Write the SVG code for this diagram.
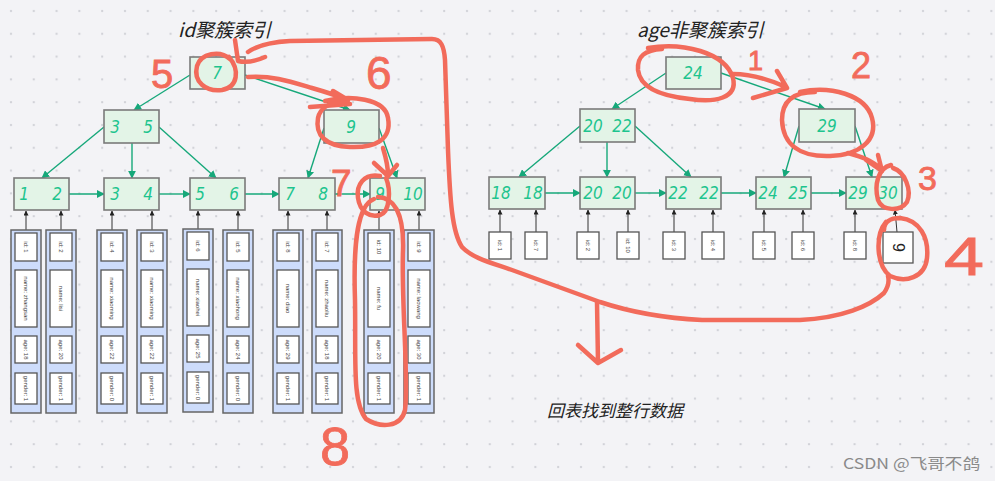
<svg xmlns="http://www.w3.org/2000/svg" width="995" height="481" viewBox="0 0 995 481">
<defs>
<pattern id="dots" x="0" y="0" width="22.8" height="22.8" patternUnits="userSpaceOnUse">
<rect x="10" y="10" width="2" height="2" fill="#cfd0d6"/>
</pattern>
<marker id="ga" viewBox="0 0 10 10" refX="9" refY="5" markerWidth="8" markerHeight="8" orient="auto" markerUnits="userSpaceOnUse">
<path d="M0,0 L10,5 L0,10 z" fill="#16a87a"/>
</marker>
<marker id="ka" viewBox="0 0 10 10" refX="9" refY="5" markerWidth="5" markerHeight="5" orient="auto" markerUnits="userSpaceOnUse">
<path d="M0,0 L10,5 L0,10 z" fill="#222"/>
</marker>
<style>
.nd{fill:#e3f4e7;stroke:#7a7a7a;stroke-width:1.6}
.k{font-family:"DejaVu Sans Condensed","DejaVu Sans",sans-serif;font-style:italic;font-size:17px;fill:#1ec48e;text-anchor:middle;dominant-baseline:central}
.ln{stroke:#16a87a;stroke-width:1.4;fill:none;marker-end:url(#ga)}
.pt{stroke:#333;stroke-width:1;fill:none;marker-end:url(#ka)}
.col{fill:#cddcfb;stroke:#666;stroke-width:1.5}
.cell{fill:#fff;stroke:#555;stroke-width:1.3}
.rt{font-family:"Liberation Sans",Arial,sans-serif;font-size:6px;fill:#444;text-anchor:middle;dominant-baseline:central}
.ttl{font-family:"Noto Sans CJK SC","Noto Sans",sans-serif;font-style:italic;font-size:19px;fill:#222}
.red{stroke:#f26b5b;stroke-width:4.5;fill:none;stroke-linecap:round;stroke-linejoin:round}
.rd{font-family:"Liberation Sans",Arial,sans-serif;fill:#f26b5b;stroke:#f26b5b;stroke-width:0.8}
</style>
</defs>
<rect width="995" height="481" fill="#f3f3f6"/>
<rect width="995" height="481" fill="url(#dots)"/>

<text class="ttl" x="178" y="37">id聚簇索引</text>
<text class="ttl" x="637" y="37">age非聚簇索引</text>

<g id="connectors">
<line class="ln" x1="190" y1="75" x2="134" y2="110"/>
<line class="ln" x1="245" y1="75" x2="350" y2="110"/>
<line class="ln" x1="104" y1="127" x2="42" y2="178"/>
<line class="ln" x1="132" y1="143" x2="132" y2="178"/>
<line class="ln" x1="159" y1="127" x2="216" y2="178"/>
<line class="ln" x1="324" y1="128" x2="308" y2="178"/>
<line class="ln" x1="379" y1="128" x2="397" y2="178"/>
<line class="ln" x1="69" y1="194" x2="104" y2="194"/>
<line class="ln" x1="159" y1="194" x2="190" y2="194"/>
<line class="ln" x1="245" y1="194" x2="279" y2="194"/>
<line class="ln" x1="335" y1="194" x2="370" y2="194"/>

<line class="ln" x1="666" y1="73" x2="612" y2="109"/>
<line class="ln" x1="721" y1="73" x2="825" y2="109"/>
<line class="ln" x1="580" y1="126" x2="519" y2="177"/>
<line class="ln" x1="607" y1="142" x2="607" y2="177"/>
<line class="ln" x1="635" y1="126" x2="691" y2="177"/>
<line class="ln" x1="799" y1="126" x2="784" y2="177"/>
<line class="ln" x1="855" y1="126" x2="872" y2="177"/>
<line class="ln" x1="545" y1="193" x2="580" y2="193"/>
<line class="ln" x1="635" y1="193" x2="666" y2="193"/>
<line class="ln" x1="721" y1="193" x2="756" y2="193"/>
<line class="ln" x1="811" y1="193" x2="846" y2="193"/>

<line class="pt" x1="26" y1="230" x2="26" y2="211"/>
<line class="pt" x1="61" y1="230" x2="61" y2="211"/>
<line class="pt" x1="112" y1="230" x2="112" y2="211"/>
<line class="pt" x1="152" y1="230" x2="152" y2="211"/>
<line class="pt" x1="198" y1="230" x2="198" y2="211"/>
<line class="pt" x1="238" y1="230" x2="238" y2="211"/>
<line class="pt" x1="288" y1="230" x2="288" y2="211"/>
<line class="pt" x1="327" y1="230" x2="327" y2="211"/>
<line class="pt" x1="379" y1="230" x2="379" y2="211"/>
<line class="pt" x1="419" y1="230" x2="419" y2="211"/>

<line class="pt" x1="500" y1="232" x2="500" y2="210"/>
<line class="pt" x1="536" y1="232" x2="536" y2="210"/>
<line class="pt" x1="588" y1="232" x2="588" y2="210"/>
<line class="pt" x1="628" y1="232" x2="628" y2="210"/>
<line class="pt" x1="674" y1="232" x2="674" y2="210"/>
<line class="pt" x1="713" y1="232" x2="713" y2="210"/>
<line class="pt" x1="764" y1="232" x2="764" y2="210"/>
<line class="pt" x1="803" y1="232" x2="803" y2="210"/>
<line class="pt" x1="855" y1="232" x2="855" y2="210"/>
<line class="pt" x1="897" y1="232" x2="895" y2="210"/>
</g>

<g id="id-root"><rect class="nd" x="190" y="57" width="55" height="32"/><text class="k" x="217" y="73">7</text></g>
<g id="id-n35"><rect class="nd" x="104" y="110" width="55" height="33"/><text class="k" x="115" y="127">3</text><text class="k" x="148" y="127">5</text></g>
<g id="id-n9"><rect class="nd" x="324" y="110" width="55" height="33"/><text class="k" x="351" y="127">9</text></g>
<g id="id-l12"><rect class="nd" x="14" y="178" width="55" height="32"/><text class="k" x="24" y="194">1</text><text class="k" x="57" y="194">2</text></g>
<g id="id-l34"><rect class="nd" x="104" y="178" width="55" height="32"/><text class="k" x="115" y="194">3</text><text class="k" x="148" y="194">4</text></g>
<g id="id-l56"><rect class="nd" x="190" y="178" width="55" height="32"/><text class="k" x="200" y="194">5</text><text class="k" x="234" y="194">6</text></g>
<g id="id-l78"><rect class="nd" x="279" y="178" width="56" height="32"/><text class="k" x="290" y="194">7</text><text class="k" x="323" y="194">8</text></g>
<g id="id-l910"><rect class="nd" x="370" y="178" width="55" height="32"/><text class="k" x="380" y="194">9</text><text class="k" x="413" y="194">10</text></g>

<g id="row1" transform="translate(11,230)"><rect class="col" width="30" height="183"/><rect class="cell" x="4" y="3" width="22" height="28"/><rect class="cell" x="4" y="40" width="22" height="57"/><rect class="cell" x="4" y="106" width="22" height="27"/><rect class="cell" x="4" y="143" width="22" height="31"/><text class="rt" transform="translate(15,17) rotate(90)">id: 1</text><text class="rt" transform="translate(15,68.5) rotate(90)">name: zhangsan</text><text class="rt" transform="translate(15,119.5) rotate(90)">age: 18</text><text class="rt" transform="translate(15,158.5) rotate(90)">gender: 1</text></g>
<g id="row2" transform="translate(46,230)"><rect class="col" width="30" height="183"/><rect class="cell" x="4" y="3" width="22" height="28"/><rect class="cell" x="4" y="40" width="22" height="57"/><rect class="cell" x="4" y="106" width="22" height="27"/><rect class="cell" x="4" y="143" width="22" height="31"/><text class="rt" transform="translate(15,17) rotate(90)">id: 2</text><text class="rt" transform="translate(15,68.5) rotate(90)">name: lisi</text><text class="rt" transform="translate(15,119.5) rotate(90)">age: 20</text><text class="rt" transform="translate(15,158.5) rotate(90)">gender: 1</text></g>
<g id="row3" transform="translate(97,230)"><rect class="col" width="30" height="183"/><rect class="cell" x="4" y="3" width="22" height="28"/><rect class="cell" x="4" y="40" width="22" height="57"/><rect class="cell" x="4" y="106" width="22" height="27"/><rect class="cell" x="4" y="143" width="22" height="31"/><text class="rt" transform="translate(15,17) rotate(90)">id: 4</text><text class="rt" transform="translate(15,68.5) rotate(90)">name: xiaoming</text><text class="rt" transform="translate(15,119.5) rotate(90)">age: 22</text><text class="rt" transform="translate(15,158.5) rotate(90)">gender: 0</text></g>
<g id="row4" transform="translate(137,230)"><rect class="col" width="30" height="183"/><rect class="cell" x="4" y="3" width="22" height="28"/><rect class="cell" x="4" y="40" width="22" height="57"/><rect class="cell" x="4" y="106" width="22" height="27"/><rect class="cell" x="4" y="143" width="22" height="31"/><text class="rt" transform="translate(15,17) rotate(90)">id: 3</text><text class="rt" transform="translate(15,68.5) rotate(90)">name: xiaoming</text><text class="rt" transform="translate(15,119.5) rotate(90)">age: 22</text><text class="rt" transform="translate(15,158.5) rotate(90)">gender: 1</text></g>
<g id="row5" transform="translate(183,229)"><rect class="col" width="30" height="183"/><rect class="cell" x="4" y="3" width="22" height="28"/><rect class="cell" x="4" y="40" width="22" height="57"/><rect class="cell" x="4" y="106" width="22" height="27"/><rect class="cell" x="4" y="143" width="22" height="31"/><text class="rt" transform="translate(15,17) rotate(90)">id: 6</text><text class="rt" transform="translate(15,68.5) rotate(90)">name: xiaohei</text><text class="rt" transform="translate(15,119.5) rotate(90)">age: 25</text><text class="rt" transform="translate(15,158.5) rotate(90)">gender: 0</text></g>
<g id="row6" transform="translate(223,230)"><rect class="col" width="30" height="183"/><rect class="cell" x="4" y="3" width="22" height="28"/><rect class="cell" x="4" y="40" width="22" height="57"/><rect class="cell" x="4" y="106" width="22" height="27"/><rect class="cell" x="4" y="143" width="22" height="31"/><text class="rt" transform="translate(15,17) rotate(90)">id: 5</text><text class="rt" transform="translate(15,68.5) rotate(90)">name: xiaohong</text><text class="rt" transform="translate(15,119.5) rotate(90)">age: 24</text><text class="rt" transform="translate(15,158.5) rotate(90)">gender: 0</text></g>
<g id="row7" transform="translate(273,230)"><rect class="col" width="30" height="183"/><rect class="cell" x="4" y="3" width="22" height="28"/><rect class="cell" x="4" y="40" width="22" height="57"/><rect class="cell" x="4" y="106" width="22" height="27"/><rect class="cell" x="4" y="143" width="22" height="31"/><text class="rt" transform="translate(15,17) rotate(90)">id: 8</text><text class="rt" transform="translate(15,68.5) rotate(90)">name: diao</text><text class="rt" transform="translate(15,119.5) rotate(90)">age: 29</text><text class="rt" transform="translate(15,158.5) rotate(90)">gender: 1</text></g>
<g id="row8" transform="translate(312,230)"><rect class="col" width="30" height="183"/><rect class="cell" x="4" y="3" width="22" height="28"/><rect class="cell" x="4" y="40" width="22" height="57"/><rect class="cell" x="4" y="106" width="22" height="27"/><rect class="cell" x="4" y="143" width="22" height="31"/><text class="rt" transform="translate(15,17) rotate(90)">id: 7</text><text class="rt" transform="translate(15,68.5) rotate(90)">name: zhaoliu</text><text class="rt" transform="translate(15,119.5) rotate(90)">age: 18</text><text class="rt" transform="translate(15,158.5) rotate(90)">gender: 1</text></g>
<g id="row9" transform="translate(364,230)"><rect class="col" width="30" height="183"/><rect class="cell" x="4" y="3" width="22" height="28"/><rect class="cell" x="4" y="40" width="22" height="57"/><rect class="cell" x="4" y="106" width="22" height="27"/><rect class="cell" x="4" y="143" width="22" height="31"/><text class="rt" transform="translate(15,17) rotate(90)">id: 10</text><text class="rt" transform="translate(15,68.5) rotate(90)">name: fu</text><text class="rt" transform="translate(15,119.5) rotate(90)">age: 20</text><text class="rt" transform="translate(15,158.5) rotate(90)">gender: 1</text></g>
<g id="row10" transform="translate(404,230)"><rect class="col" width="30" height="183"/><rect class="cell" x="4" y="3" width="22" height="28"/><rect class="cell" x="4" y="40" width="22" height="57"/><rect class="cell" x="4" y="106" width="22" height="27"/><rect class="cell" x="4" y="143" width="22" height="31"/><text class="rt" transform="translate(15,17) rotate(90)">id: 9</text><text class="rt" transform="translate(15,68.5) rotate(90)">name: laowang</text><text class="rt" transform="translate(15,119.5) rotate(90)">age: 30</text><text class="rt" transform="translate(15,158.5) rotate(90)">gender: 1</text></g>

<g id="age-root"><rect class="nd" x="666" y="57" width="55" height="32"/><text class="k" x="693" y="73">24</text></g>
<g id="age-n2022"><rect class="nd" x="580" y="109" width="55" height="33"/><text class="k" x="593" y="126">20</text><text class="k" x="622" y="126">22</text></g>
<g id="age-n29"><rect class="nd" x="799" y="109" width="56" height="33"/><text class="k" x="827" y="126">29</text></g>
<g id="age-l1818"><rect class="nd" x="489" y="177" width="56" height="32"/><text class="k" x="501" y="193">18</text><text class="k" x="533" y="193">18</text></g>
<g id="age-l2020"><rect class="nd" x="580" y="177" width="55" height="32"/><text class="k" x="593" y="193">20</text><text class="k" x="622" y="193">20</text></g>
<g id="age-l2222"><rect class="nd" x="666" y="177" width="55" height="32"/><text class="k" x="678" y="193">22</text><text class="k" x="709" y="193">22</text></g>
<g id="age-l2425"><rect class="nd" x="756" y="177" width="55" height="32"/><text class="k" x="768" y="193">24</text><text class="k" x="798" y="193">25</text></g>
<g id="age-l2930"><rect class="nd" x="846" y="177" width="56" height="32"/><text class="k" x="858" y="193">29</text><text class="k" x="888" y="193">30</text></g>

<g id="ptr1"><rect class="cell" x="489" y="232" width="22" height="27"/><text class="rt" transform="translate(500,245.5) rotate(90)">id: 1</text></g>
<g id="ptr2"><rect class="cell" x="525" y="232" width="22" height="27"/><text class="rt" transform="translate(536,245.5) rotate(90)">id: 7</text></g>
<g id="ptr3"><rect class="cell" x="577" y="232" width="22" height="27"/><text class="rt" transform="translate(588,245.5) rotate(90)">id: 2</text></g>
<g id="ptr4"><rect class="cell" x="617" y="232" width="22" height="27"/><text class="rt" transform="translate(628,245.5) rotate(90)">id: 10</text></g>
<g id="ptr5"><rect class="cell" x="663" y="232" width="22" height="27"/><text class="rt" transform="translate(674,245.5) rotate(90)">id: 3</text></g>
<g id="ptr6"><rect class="cell" x="702" y="232" width="22" height="27"/><text class="rt" transform="translate(713,245.5) rotate(90)">id: 4</text></g>
<g id="ptr7"><rect class="cell" x="753" y="232" width="22" height="27"/><text class="rt" transform="translate(764,245.5) rotate(90)">id: 5</text></g>
<g id="ptr8"><rect class="cell" x="792" y="232" width="22" height="27"/><text class="rt" transform="translate(803,245.5) rotate(90)">id: 6</text></g>
<g id="ptr9"><rect class="cell" x="844" y="232" width="22" height="27"/><text class="rt" transform="translate(855,245.5) rotate(90)">id: 8</text></g>
<g id="ptr10"><rect class="cell" x="883" y="232" width="30" height="31"/><text transform="translate(898,247.5) rotate(90)" font-family="Liberation Sans, Arial, sans-serif" font-size="16" fill="#222" text-anchor="middle" dominant-baseline="central">9</text></g>

<text x="547" y="417" font-family="Noto Sans CJK SC, sans-serif" font-style="italic" font-size="17" fill="#222">回表找到整行数据</text>
<text x="843" y="469" font-family="Noto Sans CJK SC, Liberation Sans, sans-serif" font-size="15" fill="#8a8a8a" textLength="137" lengthAdjust="spacingAndGlyphs">CSDN @飞哥不鸽</text>

<g id="annotations">
<path class="red" d="M230,59 C220,50 201,53 197,66 C193,82 206,92 222,90 C238,87 240,70 229,57"/>
<path class="red" d="M235,40 L238,61 C246,63 256,61 265,57"/>
<path class="red" d="M248,52 C258,45 270,42 290,41 L432,39 C441,39 444,46 445,60 L448,150 C450,200 452,232 462,247 C472,258 492,263 512,270 C542,281 572,292 600,302 C630,312 662,318 702,320 L800,320 C842,318 870,306 884,293 C889,286 889,280 888,276"/>
<path class="red" d="M597,302 L598,363 M578,345 L598,363 L621,350"/>
<path class="red" d="M248,77 C272,75 292,82 312,88 C326,92 338,96 348,100 M333,91 L348,100 M310,107 L350,104"/>
<path class="red" d="M325,101 C350,95 385,98 388,118 C392,140 375,148 350,147 C325,146 315,135 318,118 C320,108 330,102 345,101"/>
<path class="red" d="M383,148 C386,158 388,165 388,175 M374,163 L388,176 L397,165"/>
<path class="red" d="M380,176 C364,173 356,185 358,198 C360,212 370,218 380,215 C390,212 391,190 386,178"/>
<path class="red" d="M374,199 C358,205 353,240 355,300 C356,360 352,402 366,419 C380,428 401,428 405,410 C409,380 401,300 403,250 C404,215 396,198 378,197"/>
<path class="red" d="M648,48 C682,42 725,52 733,78 C738,98 715,103 690,99 C660,96 640,88 638,70 C637,56 645,50 662,49"/>
<path class="red" d="M733,74 C750,74 766,78 786,87 M777,71 L787,88 M753,98 L787,88"/>
<path class="red" d="M800,92 C830,85 866,95 872,118 C878,140 860,155 830,156 C800,157 783,145 782,120 C782,100 795,92 815,92"/>
<path class="red" d="M848,153 C862,157 872,160 882,170 M866,160 L882,171 L878,155"/>
<path class="red" d="M891,165 C878,168 874,185 878,200 C882,211 900,212 907,202 C912,190 905,172 893,168"/>
<path class="red" d="M886,222 C875,235 876,265 890,276 C905,283 925,278 927,258 C929,238 920,220 900,218 C890,218 884,222 884,230"/>
<text class="rd" x="151" y="88" font-size="40">5</text>
<text class="rd" x="366" y="89" font-size="46">6</text>
<text class="rd" x="331" y="196" font-size="37">7</text>
<text class="rd" x="320" y="465" font-size="54">8</text>
<text class="rd" x="748" y="70" font-size="27">1</text>
<text class="rd" x="851" y="78" font-size="36">2</text>
<text class="rd" x="918" y="190" font-size="34">3</text>
<text class="rd" x="944" y="275" font-size="54" textLength="40" lengthAdjust="spacingAndGlyphs">4</text>
</g>
</svg>
